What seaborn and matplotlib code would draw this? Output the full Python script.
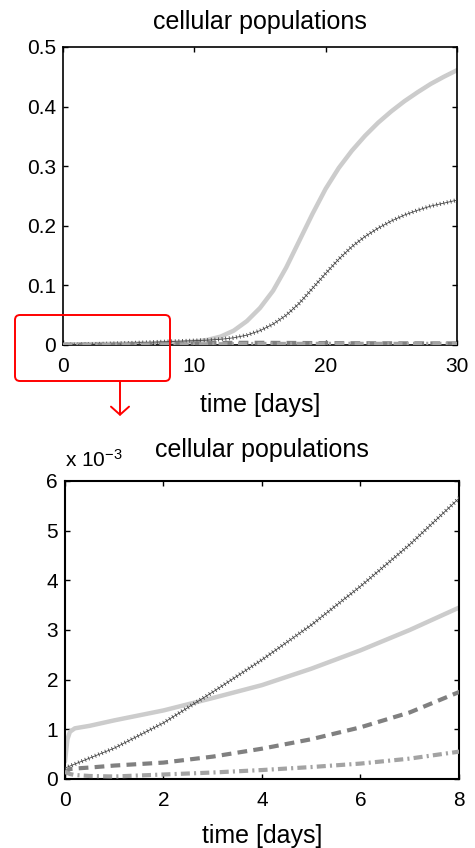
import numpy as np
import pandas as pd
import matplotlib
matplotlib.use("Agg")
import matplotlib.pyplot as plt
from matplotlib.patches import FancyBboxPatch, FancyArrowPatch
from matplotlib.ticker import FuncFormatter
import seaborn as sns

# time points (days) and the four populations
t = [0, 0.05, 0.1, 0.2, 0.5, 1, 2, 3, 4, 5, 6, 7, 8, 9, 10, 11, 12, 13, 14, 15,
     16, 17, 18, 19, 20, 21, 22, 23, 24, 25, 26, 27, 28, 29, 30]
pop_solid = [0.00035, 0.0008, 0.00095, 0.00102, 0.00107, 0.00118, 0.00138, 0.00163,
             0.00189, 0.00222, 0.00259, 0.00300, 0.00345, 0.0042, 0.0055, 0.0085,
             0.014, 0.024, 0.040, 0.062, 0.091, 0.130, 0.175, 0.220, 0.262, 0.297,
             0.326, 0.351, 0.373, 0.392, 0.409, 0.424, 0.438, 0.450, 0.461]
pop_cross = [0.00022, 0.00024, 0.00026, 0.0003, 0.00042, 0.00062, 0.00113, 0.00175,
             0.00240, 0.00310, 0.00388, 0.00472, 0.00565, 0.0064, 0.0072, 0.0081,
             0.0095, 0.0120, 0.0165, 0.024, 0.035, 0.050, 0.070, 0.095, 0.120, 0.144,
             0.165, 0.182, 0.196, 0.208, 0.218, 0.226, 0.233, 0.238, 0.243]
pop_dashed = [0.0001, 0.00017, 0.0002, 0.00021, 0.00023, 0.00027, 0.00033, 0.00045,
              0.00061, 0.0008, 0.00104, 0.00134, 0.00175, 0.0022, 0.0026, 0.0030,
              0.0033, 0.0035, 0.0036, 0.0036, 0.0035, 0.0034, 0.0033, 0.0032, 0.0031,
              0.0030, 0.0029, 0.0029, 0.0028, 0.0028, 0.0027, 0.0027, 0.0026, 0.0026, 0.0026]
pop_dashdot = [0.00015, 0.00012, 0.0001, 0.00008, 0.00006, 0.00005, 0.00009, 0.00013,
               0.00018, 0.00024, 0.00031, 0.00041, 0.00055, 0.0007, 0.0009, 0.0011,
               0.0013, 0.0015, 0.0016, 0.0017, 0.0018, 0.0018, 0.0019, 0.0019, 0.0019,
               0.0019, 0.0019, 0.0019, 0.0019, 0.0019, 0.0019, 0.0019, 0.0019, 0.0019, 0.0019]

df = pd.DataFrame({"time": t, "solid": pop_solid, "cross": pop_cross,
                   "dashed": pop_dashed, "dashdot": pop_dashdot})

sns.set_style("ticks")
plt.rcParams["font.family"] = ["Liberation Sans", "DejaVu Sans"]
plt.rcParams["text.color"] = "black"
plt.rcParams["axes.labelcolor"] = "black"
plt.rcParams["lines.scale_dashes"] = False
plt.rcParams["lines.dash_capstyle"] = "butt"

fig = plt.figure(figsize=(4.75, 8.48), dpi=100)
ax1 = fig.add_axes([0.1326, 0.5932, 0.8294, 0.3514])
ax2 = fig.add_axes([0.1368, 0.0814, 0.8295, 0.3514])


def draw_curves(ax):
    sns.lineplot(data=df, x="time", y="solid", ax=ax, color="#cccccc", lw=3.2,
                 estimator=None, zorder=2)
    sns.lineplot(data=df, x="time", y="cross", ax=ax, color="#444444", lw=0.6,
                 estimator=None, zorder=3)
    # the dense "+" markers along the black line
    sns.lineplot(data=df, x="time", y="cross", ax=ax, color="#444444", lw=3.0,
                 linestyle=(0, (0.6, 2.0)), estimator=None, zorder=3)
    sns.lineplot(data=df, x="time", y="dashed", ax=ax, color="#808080", lw=3,
                 linestyle=(0, (7, 4.5)), estimator=None, zorder=4)
    sns.lineplot(data=df, x="time", y="dashdot", ax=ax, color="#a3a3a3", lw=3,
                 linestyle=(0, (6.5, 3, 1.5, 3)), estimator=None, zorder=4)


def style_axes(ax, frame_lw):
    ax.tick_params(direction="in", top=True, right=True, length=3.5, width=1,
                   labelsize=15, color="black", labelcolor="black")
    ax.tick_params(axis="x", pad=9)
    ax.tick_params(axis="y", pad=5)
    for sp in ax.spines.values():
        sp.set_visible(True)
        sp.set_linewidth(frame_lw)
        sp.set_color("black")
    ax.set_ylabel("")


draw_curves(ax1)
ax1.set_xlim(0, 30)
ax1.set_ylim(0, 0.5)
ax1.set_xticks([0, 10, 20, 30])
ax1.set_yticks([0, 0.1, 0.2, 0.3, 0.4, 0.5])
ax1.yaxis.set_major_formatter(FuncFormatter(lambda v, p: f"{v:g}"))
style_axes(ax1, 1.2)
ax1.set_title("cellular populations", fontsize=18, pad=13)
ax1.set_xlabel("time [days]", fontsize=18, labelpad=12)

draw_curves(ax2)
ax2.set_xlim(0, 8)
ax2.set_ylim(0, 0.006)
ax2.set_xticks([0, 2, 4, 6, 8])
ax2.set_yticks([0, 0.001, 0.002, 0.003, 0.004, 0.005, 0.006])
ax2.yaxis.set_major_formatter(FuncFormatter(lambda v, p: f"{v * 1e3:g}"))
style_axes(ax2, 1.5)
ax2.set_title("cellular populations", fontsize=18, pad=17)
ax2.set_xlabel("time [days]", fontsize=18, labelpad=10)
ax2.annotate(r"x $\mathregular{10^{-3}}$", xy=(0, 1), xycoords="axes fraction",
             xytext=(0, 10), textcoords="offset points", fontsize=15,
             ha="left", va="baseline")

# red zoom box and arrow pointing at the lower panel
box = FancyBboxPatch((0.15, 4.67), 1.55, 0.66, boxstyle="round,pad=0,rounding_size=0.05",
                     transform=fig.dpi_scale_trans, fill=False, ec="red", lw=1.4, zorder=5)
fig.add_artist(box)
arrow = FancyArrowPatch((1.20, 4.66), (1.20, 4.32), transform=fig.dpi_scale_trans,
                        arrowstyle="->,head_length=0.58,head_width=0.65", mutation_scale=10,
                        color="red", lw=1.4, shrinkA=0, shrinkB=0, zorder=5)
fig.add_artist(arrow)

fig.savefig("out.png", dpi=100)
